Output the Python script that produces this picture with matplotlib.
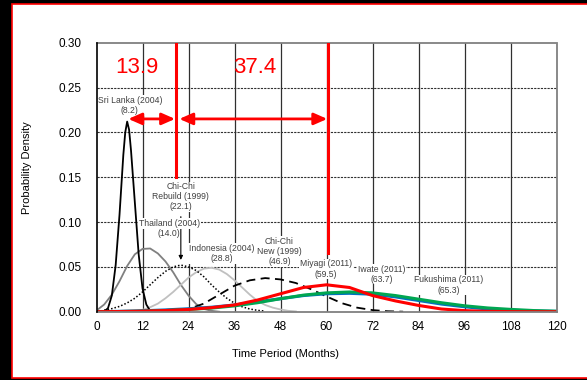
import matplotlib
matplotlib.use('Agg')
import matplotlib.pyplot as plt
from matplotlib.patches import Rectangle

plt.rcParams['font.family'] = ['Liberation Sans', 'DejaVu Sans']

# curves (months, density)
sri_x = [2, 3, 4, 5, 6, 7, 7.5, 8, 8.5, 9, 10, 11, 12, 13, 14]
sri_y = [0.000, 0.004, 0.018, 0.052, 0.108, 0.175, 0.200, 0.212, 0.203, 0.180, 0.122, 0.064, 0.026, 0.008, 0.001]

tha_x = [0.5, 2, 4, 6, 8, 10, 12, 14, 16, 18, 20, 22, 24, 26, 28, 30, 32]
tha_y = [0.003, 0.008, 0.019, 0.034, 0.051, 0.064, 0.070, 0.0705, 0.065, 0.056, 0.044, 0.030, 0.018, 0.0085, 0.003, 0.001, 0.0]

reb_x = [2, 4, 6, 8, 10, 12, 14, 16, 18, 20, 22, 24, 26, 28, 30, 32, 34, 36, 38, 40, 42, 44]
reb_y = [0.0018, 0.0034, 0.0059, 0.0098, 0.015, 0.022, 0.030, 0.038, 0.045, 0.050, 0.052, 0.050, 0.046,
         0.039, 0.030, 0.022, 0.015, 0.0095, 0.0055, 0.003, 0.0015, 0.0007]

ind_x = [10, 12, 14, 16, 18, 20, 22, 24, 26, 28, 30, 32, 34, 36, 38, 40, 42, 44, 46, 48, 50, 52]
ind_y = [0.0005, 0.002, 0.005, 0.009, 0.015, 0.022, 0.030, 0.038, 0.044, 0.048, 0.049, 0.047, 0.042,
         0.035, 0.027, 0.019, 0.012, 0.0075, 0.0045, 0.0025, 0.001, 0.0003]

new_x = [22, 24, 28, 32, 36, 40, 44, 48, 52, 56, 60, 64, 68, 72, 76, 80]
new_y = [0.002, 0.003, 0.009, 0.019, 0.029, 0.035, 0.0375, 0.036, 0.032, 0.025, 0.017, 0.0095, 0.0045,
         0.0018, 0.0005, 0.0]

t11_x = [0, 6, 12, 18, 24, 30, 36, 42, 48, 54, 60, 66, 72, 78, 84, 90, 96, 102, 108, 114, 120]
miy_y = [0, 0.0002, 0.0006, 0.0013, 0.0025, 0.0045, 0.0075, 0.013, 0.020, 0.027, 0.030, 0.027, 0.018,
         0.012, 0.007, 0.003, 0.0012, 0.0004, 0.0001, 0, 0]
iwa_y = [0, 0.0004, 0.001, 0.002, 0.0033, 0.005, 0.0075, 0.011, 0.0145, 0.018, 0.020, 0.0205, 0.0195,
         0.0165, 0.0125, 0.0085, 0.0055, 0.003, 0.0017, 0.0008, 0.0004]
fuk_y = [0, 0.0002, 0.0006, 0.0013, 0.0025, 0.004, 0.0065, 0.010, 0.0145, 0.0185, 0.021, 0.022, 0.021,
         0.018, 0.014, 0.010, 0.0066, 0.0042, 0.0026, 0.0013, 0.0005]

# labels: text, x, y
labels = [
    ('Sri Lanka (2004)\n(8.2)', 8.7, 0.230),
    ('Chi-Chi\nRebuild (1999)\n(22.1)', 22.0, 0.128),
    ('Indonesia (2004)\n(28.8)', 32.7, 0.0647),
    ('Chi-Chi\nNew (1999)\n(46.9)', 47.7, 0.0673),
    ('Miyagi (2011)\n(59.5)', 59.9, 0.0476),
    ('Iwate (2011)\n(63.7)', 74.4, 0.042),
    ('Fukushima (2011)\n(65.3)', 91.8, 0.0298),
]
gaps = ['13.9', '37.4']

fig = plt.figure(figsize=(5.87, 3.8), dpi=100, facecolor='black')
fig.patches.append(Rectangle((12 / 587, 2 / 380), 1.0, 374 / 380, transform=fig.transFigure,
                             facecolor='white', edgecolor='red', lw=1.2, zorder=-10))
ax = fig.add_axes([96.5 / 587, 68.3 / 380, 460 / 587, 269 / 380])
ax.set_facecolor('white')

# grid
for v in [0.05, 0.10, 0.15, 0.20, 0.25]:
    ax.axhline(v, color='#303030', lw=0.8, ls=(0, (2, 1)), zorder=1)
for m in range(12, 120, 12):
    ax.axvline(m, color='#303030', lw=0.9, zorder=1)

ax.plot(tha_x, tha_y, color='#808080', lw=1.3, zorder=2)
ax.plot(ind_x, ind_y, color='#c0c0c0', lw=1.3, zorder=2)
ax.plot(reb_x, reb_y, color='black', lw=1.1, ls=(0, (1, 1.3)), zorder=2)
ax.plot(new_x, new_y, color='black', lw=1.3, ls=(0, (5, 3)), zorder=2)
ax.plot(sri_x, sri_y, color='black', lw=1.3, zorder=2)
ax.plot(t11_x, iwa_y, color='#0070c0', lw=2.2, zorder=2)
ax.plot(t11_x, fuk_y, color='#00a651', lw=2.2, zorder=2)
ax.plot(t11_x, miy_y, color='#ff0000', lw=2.2, zorder=2)

# red markers
ax.plot([20.8, 20.8], [0.30, 0.15], color='red', lw=2.2, zorder=5)
ax.plot([60.4, 60.4], [0.30, 0.065], color='red', lw=2.2, zorder=5)
arrow = dict(arrowstyle='<|-|>,head_length=0.5,head_width=0.22', color='red', lw=2,
             mutation_scale=16, shrinkA=0, shrinkB=0)
ax.annotate('', xy=(8.3, 0.215), xytext=(20.5, 0.215), arrowprops=arrow, zorder=5)
ax.annotate('', xy=(21.6, 0.215), xytext=(60.2, 0.215), arrowprops=arrow, zorder=5)
ax.text(10.5, 0.272, gaps[0], color='red', fontsize=16, ha='center', va='center', zorder=5)
ax.text(41.3, 0.272, gaps[1], color='red', fontsize=16, ha='center', va='center', zorder=5)

box = dict(boxstyle='square,pad=0.1', fc='white', ec='none')
for txt, x, y in labels:
    ax.text(x, y, txt, fontsize=6.2, color='#404040', ha='center', va='center', ma='center',
            linespacing=1.15, bbox=box, zorder=4)

ax.annotate('', xy=(22.0, 0.0577), xytext=(22.0, 0.106),
            arrowprops=dict(arrowstyle='-|>', color='black', lw=0.8, mutation_scale=6,
                            shrinkA=0, shrinkB=0), zorder=3)
ax.text(19.0, 0.0986, 'Thailand (2004)', fontsize=6.2, color='#404040', ha='center', va='center',
        bbox=box, zorder=4)
ax.text(19.0, 0.0867, '(14.0)', fontsize=6.2, color='#404040', ha='center', va='center', zorder=4)

ax.set_xlim(0, 120)
ax.set_ylim(0, 0.30)
ax.set_xticks(range(0, 121, 12))
ax.set_yticks([0, 0.05, 0.10, 0.15, 0.20, 0.25, 0.30])
ax.set_yticklabels(['0.00', '0.05', '0.10', '0.15', '0.20', '0.25', '0.30'])
ax.tick_params(length=0, labelsize=8.5, colors='black')
ax.tick_params(axis='y', pad=10.5)
ax.tick_params(axis='x', pad=6.5)
ax.spines['left'].set_color('black')
ax.spines['left'].set_linewidth(1.2)
ax.spines['left'].set_zorder(6)
for s in ['right', 'bottom']:
    ax.spines[s].set_color('#808080')
    ax.spines[s].set_linewidth(1.3)
ax.spines['top'].set_color('#808080')
ax.spines['top'].set_linewidth(1.3)
ax.spines['top'].set_linestyle((0, (2, 1)))

fig.text(285 / 587, 1 - 354 / 380, 'Time Period (Months)', fontsize=8, ha='center', va='center')
fig.text(27 / 587, 1 - 168 / 380, 'Probability Density', fontsize=8, rotation=90,
         ha='center', va='center')

fig.savefig('out.png', dpi=100, facecolor=fig.get_facecolor())
